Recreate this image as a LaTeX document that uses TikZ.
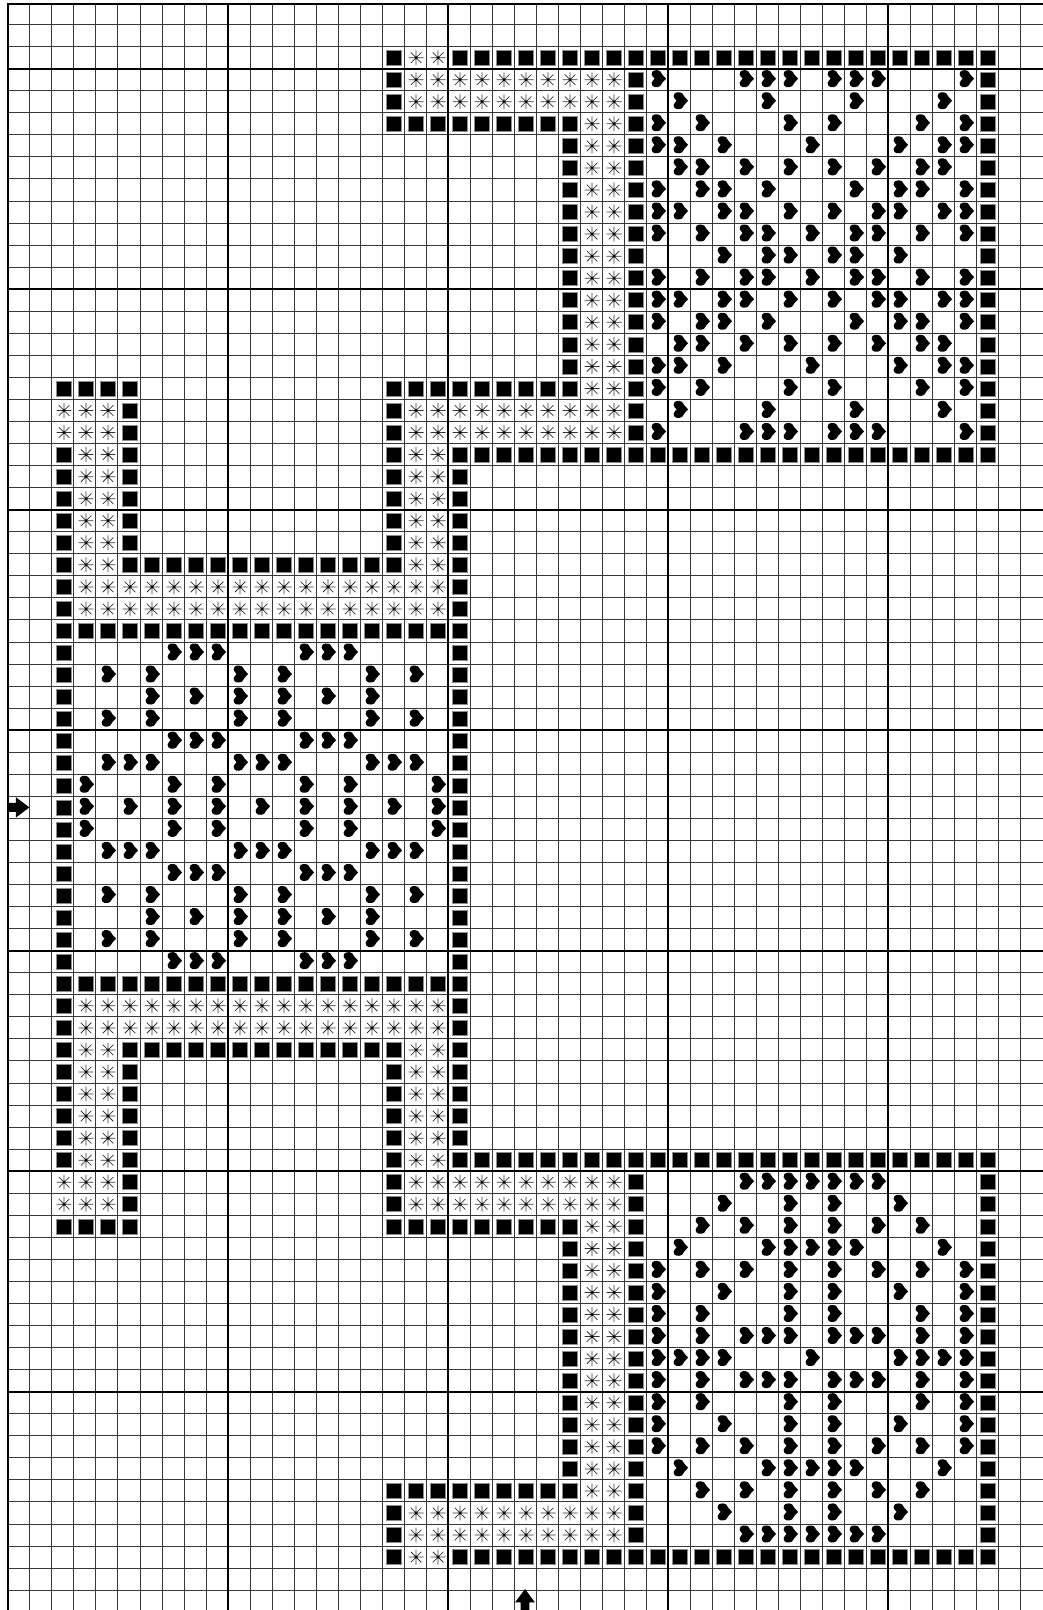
\documentclass[tikz,border=0pt]{standalone}
\usepackage{tikz}

\tikzset{
    sqmark/.pic={\filldraw[draw=black!45, fill=black, line width=.6pt] (-7.5pt,-7.5pt) rectangle (7.5pt,7.5pt);},
    starmark/.pic={
        \draw[black!80, line width=.75pt] (-7.4pt,0pt) -- (7.4pt,0pt) (0pt,-7.4pt) -- (0pt,7.4pt)
            (-5.3pt,-5.3pt) -- (5.3pt,5.3pt) (-5.3pt,5.3pt) -- (5.3pt,-5.3pt);
        \fill (0pt,0pt) circle (1.4pt);
    },
    heartmark/.pic={\fill[scale=1.08] (7.4pt,1pt) .. controls (5pt,3.5pt) and (3pt,5.5pt) .. (1.8pt,8pt)
        .. controls (-1pt,9.6pt) and (-6.2pt,9.4pt) .. (-6pt,5pt)
        .. controls (-5.9pt,3.8pt) and (-4.2pt,2pt) .. (-3.2pt,1pt)
        .. controls (-4.2pt,0pt) and (-5.9pt,-1.8pt) .. (-6pt,-3pt)
        .. controls (-6.2pt,-7.4pt) and (-1pt,-7.6pt) .. (1.8pt,-6pt)
        .. controls (3pt,-3.5pt) and (5pt,-1.5pt) .. (7.4pt,1pt) -- cycle;},
}
\newcommand{\heartrows}[2]{\foreach \r in {#1} \foreach \c in {#2} \pic at (\c+.55,\r+.5) {heartmark};}

\begin{document}
\begin{tikzpicture}[
    x=22pt, y=-22.05pt,
    thinline/.style={black!78, line width=1pt},
    heavyline/.style={black, line width=1.8pt},
    edgeline/.style={black, line width=2.4pt}
]
\useasboundingbox (-.3636,-.116) rectangle (47.04,72.9);

% grid
\foreach \c in {1,...,46} \draw[thinline] (\c,.066) -- (\c,72.9);
\foreach \r in {1,...,72} \draw[thinline] (0,\r) -- (47.04,\r);
\foreach \c in {10,20,30,40} \draw[heavyline] (\c,.066) -- (\c,72.9);
\foreach \r in {3,13,...,63} \draw[heavyline] (0,\r) -- (47.04,\r);
\draw[edgeline] (47.04,.066) -- (0,.066) -- (0,72.9);

% squares: first row / last row / first col / last col
\foreach \ra/\rb/\ca/\cb in {
    2/2/20/44, 20/20/20/44, 3/19/44/44, 3/19/28/28, 2/5/17/17, 5/5/18/25, 6/16/25/25, 17/17/18/25,
    17/25/17/17, 17/17/2/5, 18/25/5/5, 20/52/2/2, 21/51/20/20, 25/25/6/16, 28/28/3/19, 44/44/3/19,
    47/47/6/16, 47/55/5/5, 47/55/17/17, 52/52/20/44, 70/70/20/44, 53/69/44/44, 53/69/28/28,
    55/55/2/4, 55/55/18/25, 56/66/25/25, 67/67/18/25, 67/70/17/17
}{
    \foreach \r in {\ra,...,\rb}
        \foreach \c in {\ca,...,\cb}
            \pic at (\c+.55,\r+.5) {sqmark};
}

% stars
\foreach \ra/\rb/\ca/\cb in {
    2/2/18/19, 3/4/18/27, 5/17/26/27, 18/19/18/27, 20/25/18/19, 18/19/2/4, 20/25/3/4,
    26/27/3/19, 45/46/3/19, 47/52/3/4, 47/52/18/19, 53/54/2/4, 53/54/18/27,
    55/67/26/27, 68/69/18/27, 70/70/18/19
}{
    \foreach \r in {\ra,...,\rb}
        \foreach \c in {\ca,...,\cb}
            \pic at (\c+.55,\r+.5) {starmark};
}

% hearts, top right
\heartrows{3,19}{29,33,34,35,37,38,39,43}
\heartrows{4,18}{30,34,38,42}
\heartrows{5,17}{29,31,35,37,41,43}
\heartrows{6,16}{29,30,32,36,40,42,43}
\heartrows{7,15}{30,31,33,35,37,39,41,42}
\heartrows{8,14}{29,31,32,34,38,40,41,43}
\heartrows{9,13}{29,30,32,33,35,37,39,40,42,43}
\heartrows{10,12}{29,31,33,34,36,38,39,41,43}
\heartrows{11}{32,34,35,37,38,40}
% hearts, left
\heartrows{29,33,39,43}{7,8,9,13,14,15}
\heartrows{30,32,40,42}{4,6,10,12,16,18}
\heartrows{31,41}{6,8,10,12,14,16}
\heartrows{34,38}{4,5,6,10,11,12,16,17,18}
\heartrows{35,37}{3,7,9,13,15,19}
\heartrows{36}{3,5,7,9,11,13,15,17,19}
% hearts, bottom right
\heartrows{53,69}{33,34,35,36,37,38,39}
\heartrows{54,68}{32,35,37,40}
\heartrows{55,67}{31,33,35,37,39,41}
\heartrows{56,66}{30,34,35,36,37,38,42}
\heartrows{57,65}{29,31,33,35,37,39,41,43}
\heartrows{58,64}{29,32,35,37,40,43}
\heartrows{59,63}{29,31,35,37,41,43}
\heartrows{60,62}{29,31,33,34,35,37,38,39,41,43}
\heartrows{61}{29,30,31,32,36,40,41,42,43}

% centre marks
\fill (0,36.3) -- (.36,36.3) -- (.36,36.04) -- (.97,36.5) -- (.36,36.96) -- (.36,36.7) -- (0,36.7) -- cycle;
\fill (23.3,72.9) -- (23.3,72.55) -- (23.05,72.55) -- (23.5,71.95) -- (23.95,72.55) -- (23.7,72.55) -- (23.7,72.9) -- cycle;
\end{tikzpicture}
\end{document}
